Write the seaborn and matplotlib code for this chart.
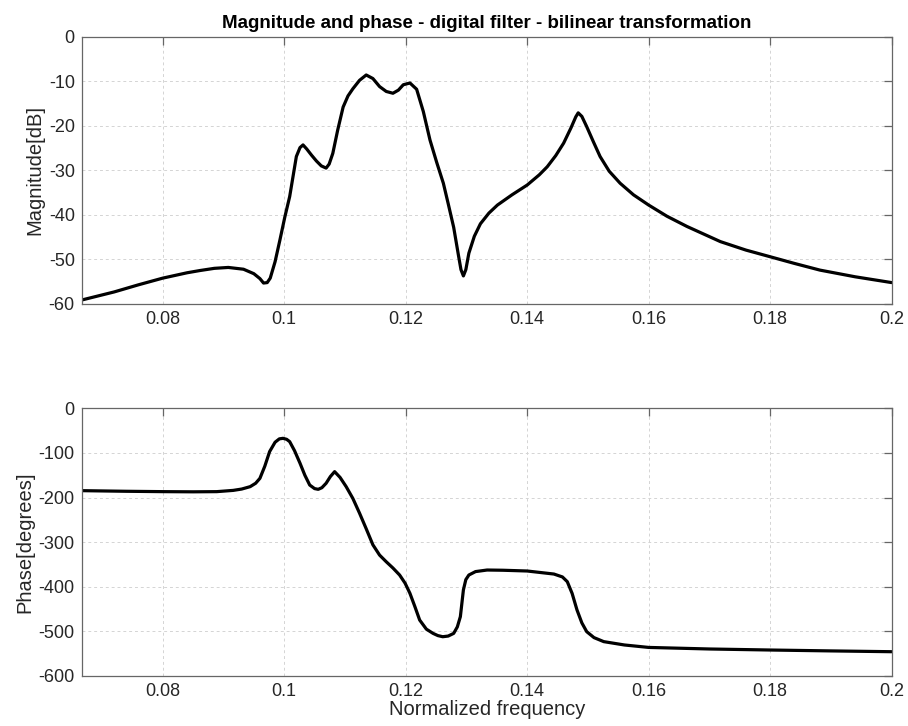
import numpy as np
import pandas as pd
import matplotlib
matplotlib.use("Agg")
import matplotlib.pyplot as plt
import seaborn as sns

# values
mag_freq = [0.0667, 0.0720, 0.0760, 0.0800, 0.0840, 0.0861, 0.0885, 0.0908, 0.0933,
            0.0950, 0.0960, 0.0966, 0.0972, 0.0977, 0.0985, 0.0993, 0.1001, 0.1009,
            0.1015, 0.1020, 0.1026, 0.1031, 0.1037, 0.1045, 0.1053, 0.1061, 0.1069,
            0.1074, 0.1080, 0.1088, 0.1097, 0.1105, 0.1113, 0.1124, 0.1135, 0.1146,
            0.1157, 0.1168, 0.1179, 0.1188, 0.1196, 0.1207, 0.1218, 0.1229, 0.1240,
            0.1251, 0.1262, 0.1270, 0.1279, 0.1287, 0.1291, 0.1295, 0.1299, 0.1304,
            0.1313, 0.1323, 0.1337, 0.1351, 0.1375, 0.1400, 0.1420, 0.1433, 0.1447,
            0.1460, 0.1472, 0.1480, 0.1484, 0.1490, 0.1498, 0.1509, 0.1520, 0.1535,
            0.1553, 0.1575, 0.1600, 0.1630, 0.1663, 0.1718, 0.1760, 0.1800, 0.1840,
            0.1882, 0.1940, 0.2000]
mag_db = [-59.1, -57.3, -55.7, -54.2, -53.0, -52.5, -52.0, -51.8, -52.2,
          -53.2, -54.3, -55.3, -55.2, -54.2, -50.5, -45.6, -40.5, -35.9,
          -31.0, -26.9, -24.9, -24.3, -25.2, -26.6, -27.9, -29.0, -29.5,
          -28.6, -26.2, -21.0, -15.8, -13.3, -11.7, -9.8, -8.6, -9.4,
          -11.2, -12.3, -12.7, -12.0, -10.8, -10.4, -11.8, -16.8, -23.2,
          -28.2, -32.9, -37.5, -42.8, -49.2, -52.3, -53.7, -52.3, -48.6,
          -44.8, -42.0, -39.6, -37.8, -35.5, -33.3, -31.0, -29.2, -26.7,
          -23.9, -20.5, -18.0, -17.1, -17.9, -20.2, -23.6, -26.9, -30.2,
          -32.9, -35.5, -37.8, -40.3, -42.6, -46.0, -47.9, -49.4, -50.9,
          -52.4, -53.9, -55.2]

ph_freq = [0.0667, 0.0740, 0.0800, 0.0850, 0.0889, 0.0916, 0.0930, 0.0944, 0.0953,
           0.0960, 0.0968, 0.0976, 0.0985, 0.0992, 0.0998, 0.1004, 0.1009, 0.1017,
           0.1026, 0.1034, 0.1042, 0.1050, 0.1056, 0.1062, 0.1069, 0.1076, 0.1083,
           0.1092, 0.1102, 0.1113, 0.1124, 0.1135, 0.1146, 0.1157, 0.1168, 0.1179,
           0.1190, 0.1199, 0.1207, 0.1215, 0.1223, 0.1234, 0.1245, 0.1253, 0.1261,
           0.1270, 0.1279, 0.1285, 0.1290, 0.1295, 0.1299, 0.1304, 0.1315, 0.1334,
           0.1360, 0.1400, 0.1444, 0.1458, 0.1466, 0.1474, 0.1482, 0.1490, 0.1498,
           0.1510, 0.1526, 0.1560, 0.1600, 0.1700, 0.1800, 0.1900, 0.2000]
ph_deg = [-184.6, -186.0, -186.8, -187.2, -186.8, -184.0, -181.0, -175.6, -168.0,
          -157.0, -130.0, -97.0, -76.0, -68.5, -67.3, -69.5, -74.7, -95.0,
          -123.0, -150.0, -172.0, -180.0, -181.6, -178.0, -168.0, -153.0, -142.0,
          -155.0, -175.6, -202.0, -235.0, -270.0, -306.0, -329.0, -344.0, -358.0,
          -373.7, -392.0, -414.8, -444.0, -474.6, -495.0, -504.5, -509.5, -512.0,
          -510.5, -504.5, -490.0, -467.0, -407.0, -384.0, -373.7, -366.0, -362.5,
          -363.0, -364.7, -371.5, -378.0, -388.6, -415.0, -452.0, -481.0, -500.7,
          -514.0, -523.0, -530.5, -536.0, -539.5, -541.8, -543.8, -545.6]

mag_df = pd.DataFrame({"freq": mag_freq, "mag": mag_db})
ph_df = pd.DataFrame({"freq": ph_freq, "phase": ph_deg})

sns.set_theme(style="white")
plt.rcParams['font.family'] = ['Liberation Sans', 'DejaVu Sans']

fig = plt.figure(figsize=(9.08, 7.26), dpi=100)
ax1 = fig.add_axes([0.090, 0.5813, 0.892, 0.3682])
ax2 = fig.add_axes([0.090, 0.0689, 0.892, 0.3687])

frame_col = "#666666"
text_col = "#262626"

def style_axis(ax, yticks):
    ax.set_xlim(1 / 15, 0.2)
    ax.set_xticks([0.08, 0.1, 0.12, 0.14, 0.16, 0.18, 0.2])
    ax.set_xticklabels(["0.08", "0.1", "0.12", "0.14", "0.16", "0.18", "0.2"])
    ax.set_yticks(yticks)
    ax.set_yticklabels([str(t) for t in yticks])
    ax.set_ylim(yticks[0], yticks[-1])
    ax.grid(True, color="#d4d4d4", linestyle=(0, (3, 3)), linewidth=0.7)
    ax.tick_params(direction="in", length=5.5, width=0.9, color=frame_col,
                   top=True, right=True, labelsize=13, labelcolor=text_col, pad=5)
    for sp in ax.spines.values():
        sp.set_color(frame_col)
        sp.set_linewidth(0.9)

sns.lineplot(data=mag_df, x="freq", y="mag", ax=ax1, color="black",
             linewidth=2.3, estimator=None, sort=False)
style_axis(ax1, [-60, -50, -40, -30, -20, -10, 0])
ax1.set_xlabel("")
ax1.set_ylabel("Magnitude[dB]", fontsize=14.5, color=text_col, labelpad=3)
ax1.set_title("Magnitude and phase - digital filter - bilinear transformation",
              fontsize=13.5, fontweight="bold", color="black", pad=6)

sns.lineplot(data=ph_df, x="freq", y="phase", ax=ax2, color="black",
             linewidth=2.3, estimator=None, sort=False)
style_axis(ax2, [-600, -500, -400, -300, -200, -100, 0])
ax2.set_xlabel("Normalized frequency", fontsize=14.5, color=text_col, labelpad=0)
ax2.set_ylabel("Phase[degrees]", fontsize=14.5, color=text_col, labelpad=3)

fig.savefig("out.png", dpi=100)
